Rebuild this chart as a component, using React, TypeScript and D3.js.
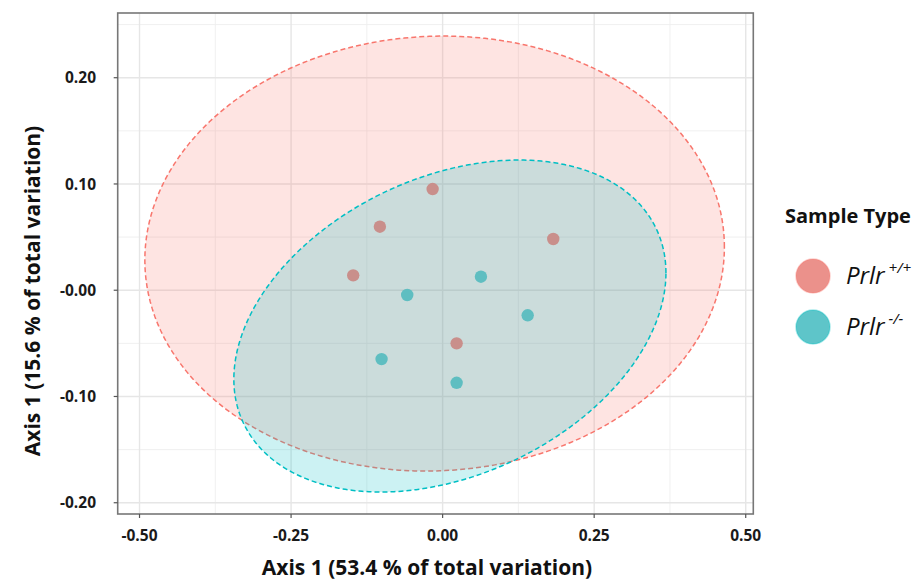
import React, { useEffect, useRef } from "react";
import * as d3 from "d3";

// ---- data ----
const groupNames = ["+/+", "-/-"];
const groupColors = ["#F8766D", "#00BFC4"];
const pointColors = ["#c98f8b", "#5fbec1"];
const legendColors = ["#eb918b", "#5ec5c9"];

const wtX = [-0.0165, -0.1035, 0.1825, -0.1475, 0.0231];
const wtY = [0.0952, 0.0598, 0.0482, 0.014, -0.05];
const koX = [0.0632, -0.0584, 0.1403, -0.1007, 0.0231];
const koY = [0.0127, -0.0045, -0.0236, -0.0648, -0.0871];

const xTicks = [-0.5, -0.25, 0, 0.25, 0.5];
const xTickLabels = ["-0.50", "-0.25", "0.00", "0.25", "0.50"];
const xMinor = [-0.375, -0.125, 0.125, 0.375];
const yTicks = [-0.2, -0.1, 0, 0.1, 0.2];
const yTickLabels = ["-0.20", "-0.10", "-0.00", "0.10", "0.20"];
const yMinor = [-0.15, -0.05, 0.05, 0.15, 0.25];

// ellipse: centre, half extents, cos of phase between x and y
const ellCx = [-0.0132, 0.012];
const ellCy = [0.0345, -0.0337];
const ellRx = [0.478, 0.3564];
const ellRy = [0.2047, 0.1562];
const ellCos = [0.03, 0.32];

const xDomain = [-0.536, 0.5125];
const yDomain = [-0.2106, 0.2609];

const W = 921;
const H = 583;
const FONT = "'Open Sans', 'DejaVu Sans', sans-serif";

export default function App() {
  const ref = useRef<SVGSVGElement>(null);

  useEffect(() => {
    const svg = d3.select(ref.current);
    svg.selectAll("*").remove();

    const left = 117.7, right = 753.3, top = 13, bottom = 514;
    const x = d3.scaleLinear().domain(xDomain).range([left, right]);
    const y = d3.scaleLinear().domain(yDomain).range([bottom, top]);

    svg.append("rect").attr("width", W).attr("height", H).attr("fill", "#fff");

    const g = svg.append("g");
    // grid
    g.selectAll(".xmin").data(xMinor).enter().append("line")
      .attr("x1", d => x(d)).attr("x2", d => x(d)).attr("y1", top).attr("y2", bottom)
      .attr("stroke", "#eeeeee").attr("stroke-width", 0.9);
    g.selectAll(".ymin").data(yMinor).enter().append("line")
      .attr("y1", d => y(d)).attr("y2", d => y(d)).attr("x1", left).attr("x2", right)
      .attr("stroke", "#eeeeee").attr("stroke-width", 0.9);
    g.selectAll(".xmaj").data(xTicks).enter().append("line")
      .attr("x1", d => x(d)).attr("x2", d => x(d)).attr("y1", top).attr("y2", bottom)
      .attr("stroke", "#e6e6e6").attr("stroke-width", 1.4);
    g.selectAll(".ymaj").data(yTicks).enter().append("line")
      .attr("y1", d => y(d)).attr("y2", d => y(d)).attr("x1", left).attr("x2", right)
      .attr("stroke", "#e6e6e6").attr("stroke-width", 1.4);

    // ellipses
    const ts = d3.range(0, 360).map(i => (i / 360) * Math.PI * 2);
    const line = d3.line<number[]>().x(d => x(d[0])).y(d => y(d[1])).curve(d3.curveLinearClosed);
    [0, 1].forEach(k => {
      const phi = Math.acos(ellCos[k]);
      const pts = ts.map(t => [ellCx[k] + ellRx[k] * Math.cos(t), ellCy[k] + ellRy[k] * Math.cos(t - phi)]);
      g.append("path").attr("d", line(pts) as string)
        .attr("fill", groupColors[k]).attr("fill-opacity", 0.2)
        .attr("stroke", groupColors[k]).attr("stroke-width", 1.5)
        .attr("stroke-dasharray", "5 3");
    });

    // points
    const groups = [
      wtX.map((v, i) => [v, wtY[i]]),
      koX.map((v, i) => [v, koY[i]]),
    ];
    groups.forEach((pts, k) => {
      g.selectAll(".p" + k).data(pts).enter().append("circle")
        .attr("cx", d => x(d[0])).attr("cy", d => y(d[1])).attr("r", 6.2)
        .attr("fill", pointColors[k]);
    });

    // panel border
    g.append("rect").attr("x", left).attr("y", top).attr("width", right - left).attr("height", bottom - top)
      .attr("fill", "none").attr("stroke", "#777").attr("stroke-width", 1.6);

    // ticks
    g.selectAll(".xt").data(xTicks).enter().append("line")
      .attr("x1", d => x(d)).attr("x2", d => x(d)).attr("y1", bottom).attr("y2", bottom + 4)
      .attr("stroke", "#555").attr("stroke-width", 1.2);
    g.selectAll(".yt").data(yTicks).enter().append("line")
      .attr("y1", d => y(d)).attr("y2", d => y(d)).attr("x1", left - 4).attr("x2", left)
      .attr("stroke", "#555").attr("stroke-width", 1.2);

    g.selectAll(".xl").data(xTicks).enter().append("text")
      .attr("x", d => x(d)).attr("y", 541).attr("text-anchor", "middle")
      .attr("font-family", FONT).attr("font-weight", 700).attr("font-size", 15.5).attr("fill", "#1a1a1a")
      .text((d, i) => xTickLabels[i]);
    g.selectAll(".yl").data(yTicks).enter().append("text")
      .attr("x", 96).attr("y", d => y(d)).attr("dy", "0.36em").attr("text-anchor", "end")
      .attr("font-family", FONT).attr("font-weight", 700).attr("font-size", 15.5).attr("fill", "#1a1a1a")
      .text((d, i) => yTickLabels[i]);

    // axis titles
    svg.append("text").attr("x", 427).attr("y", 575).attr("text-anchor", "middle")
      .attr("font-family", FONT).attr("font-weight", 700).attr("font-size", 21).attr("fill", "#111")
      .text("Axis 1 (53.4 % of total variation)");
    svg.append("text").attr("transform", "translate(40,291) rotate(-90)").attr("text-anchor", "middle")
      .attr("font-family", FONT).attr("font-weight", 700).attr("font-size", 21).attr("fill", "#111")
      .text("Axis 1 (15.6 % of total variation)");

    // legend
    svg.append("text").attr("x", 785).attr("y", 223)
      .attr("font-family", FONT).attr("font-weight", 700).attr("font-size", 20).attr("fill", "#111")
      .text("Sample Type");
    const legY = [276, 327];
    [0, 1].forEach(k => {
      svg.append("circle").attr("cx", 813).attr("cy", legY[k]).attr("r", 17)
        .attr("fill", legendColors[k]).attr("stroke", groupColors[k]).attr("stroke-opacity", 0.35).attr("stroke-width", 1.5);
      const t = svg.append("text").attr("x", 846).attr("y", legY[k] + 8)
        .attr("font-family", FONT).attr("font-style", "italic").attr("font-size", 24).attr("fill", "#111");
      t.append("tspan").text("Prlr");
      t.append("tspan").attr("dx", 4).attr("dy", -11).attr("font-size", 15).text(groupNames[k]);
    });
  }, []);

  return (
    <div style={{ position: "absolute", left: 0, top: 0 }}>
      <svg ref={ref} width={W} height={H} style={{ display: "block" }} />
    </div>
  );
}
